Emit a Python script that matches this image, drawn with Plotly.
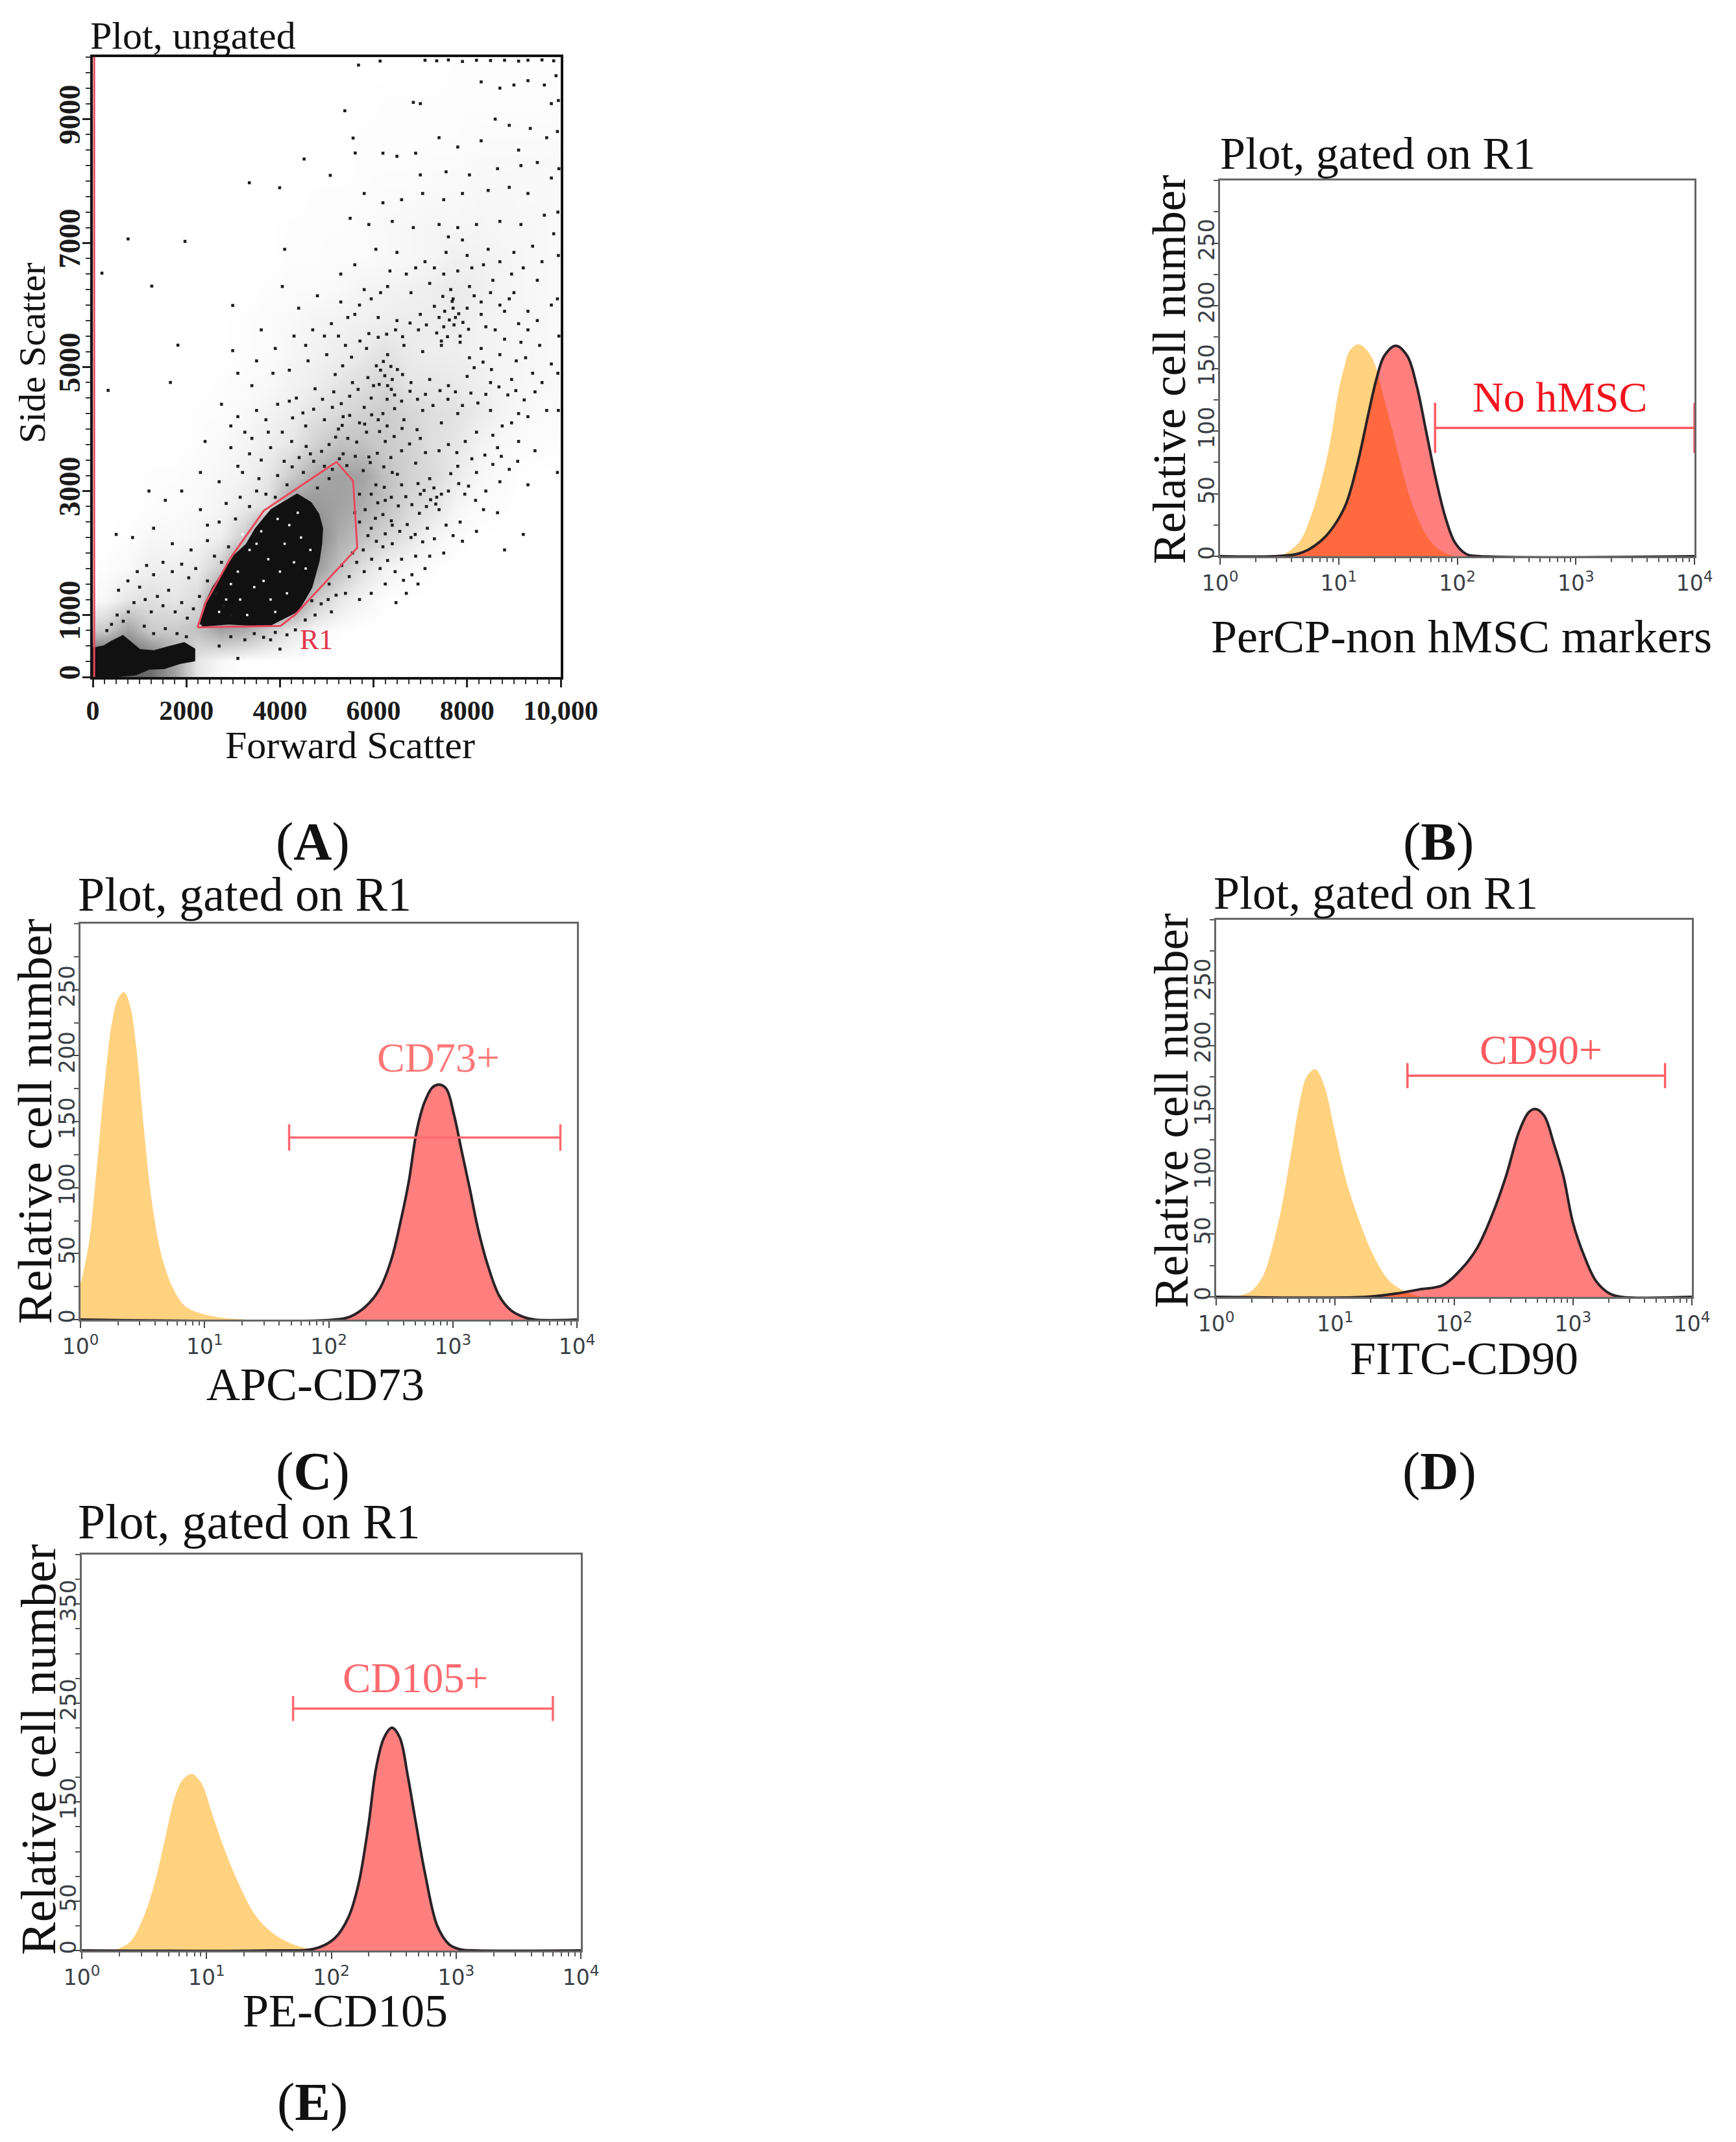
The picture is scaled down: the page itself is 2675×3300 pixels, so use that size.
import numpy as np
import plotly.graph_objects as go

W, H = 2675, 3300
PAGE_MARGIN = 8

# ---------- panel A data (forward scatter, side scatter) ----------
gate_r1_x = [2236, 4011, 4321, 5652, 5563, 5208, 3656, 2946, 2413, 2236]
gate_r1_y = [801, 825, 1002, 2083, 3165, 3470, 2684, 1923, 1202, 801]
core_x = [2325, 2900, 3744, 4150, 4366, 4650, 4809, 4860, 4880, 4800, 4640, 4366, 4100, 3833, 3656, 3500, 3301, 3050, 2857, 2600, 2413, 2325]
core_y = [841, 880, 841, 1000, 1082, 1450, 1883, 2150, 2400, 2620, 2800, 2925, 2800, 2684, 2524, 2380, 2123, 1950, 1723, 1450, 1162, 841]
debris_x = [0, 0, 250, 420, 639, 800, 994, 1300, 1704, 1950, 2147, 2147, 1850, 1526, 1200, 905, 500, 284, 0]
debris_y = [0, 441, 480, 560, 640, 540, 420, 400, 480, 530, 441, 280, 240, 160, 150, 56, 30, 0, 0]
speck_x = [3350,3600,3950,4200,4450,4300,4000,3750,3450,3150,2950,2700,3300,3800,4150,4550,4100,3650,2850,3100,4380,4650,3900,3500,4250,3200]
speck_y = [2050,2350,2550,2450,2250,1850,1700,1900,1450,1250,1500,1050,1000,1250,1350,1750,2150,1550,1250,1700,2650,2050,1050,2150,950,2300]
density_x = [250, 750, 1250, 1750, 2250, 2750, 3250, 3750, 4250, 4750, 5250, 5750, 6250, 6750, 7250, 7750, 8250, 8750, 9250, 9750]
density_y = [250, 750, 1250, 1750, 2250, 2750, 3250, 3750, 4250, 4750, 5250, 5750, 6250, 6750, 7250, 7750, 8250, 8750, 9250, 9750]
density = [
 [85,80,70,45,12,3,0,0,0,0,0,0,0,0,0,0,0,0,0,0],
 [25,45,25,25,30,45,40,25,12,5,1,0,0,0,0,0,0,0,0,0],
 [3,12,15,12,18,60,70,65,60,25,12,5,1,0,0,0,0,0,0,0],
 [1,3,8,8,10,25,70,80,75,50,30,15,6,3,1,0,0,0,0,0],
 [0,1,4,3,5,8,25,60,75,60,40,30,20,12,5,2,0,0,0,0],
 [0,0,1,2,3,5,10,15,50,50,45,40,30,20,14,5,2,1,0,0],
 [0,0,1,1,2,4,6,12,25,40,45,45,30,22,18,10,4,2,0,0],
 [0,0,0,0,1,3,5,8,12,22,30,30,25,22,16,12,6,3,2,1],
 [0,0,0,0,1,1,3,6,8,14,18,22,25,20,16,14,10,5,3,2],
 [0,0,0,0,0,1,2,3,6,8,12,16,20,12,12,10,8,5,4,3],
 [0,0,0,0,0,0,1,2,4,6,8,10,14,10,8,8,6,5,4,3],
 [0,0,0,0,0,0,1,2,3,5,6,7,8,9,9,10,6,5,4,3],
 [0,0,0,0,0,0,0,1,2,2,3,5,6,7,8,10,8,5,4,3],
 [0,0,0,0,0,0,0,0,1,1,2,2,3,4,5,7,6,5,4,3],
 [0,0,0,0,0,0,0,0,1,1,1,2,3,4,5,4,5,4,4,3],
 [0,0,0,0,0,0,0,0,0,1,1,1,2,2,3,3,4,4,3,3],
 [0,0,0,0,0,0,0,0,0,0,0,1,1,1,2,2,3,3,3,3],
 [0,0,0,0,0,0,0,0,0,0,0,1,1,1,1,1,2,2,2,2],
 [0,0,0,0,0,0,0,0,0,0,0,0,1,1,1,1,1,1,1,1],
 [0,0,0,0,0,0,0,0,0,0,0,0,0,0,0,1,1,1,1,1],
]
spots = [
 (4516,8356),(3345,7973),(3993,7893),(1970,7027),(754,7067),(195,6515),(1260,6306),(2990,5994),(1819,5353),(2990,5265),
 (1659,4752),(328,4624),(5563,8694),(5608,8453),(5075,8093),(5386,9135),(5679,9872),(6140,9936),(7100,9950),(7350,9940),
 (7600,9955),(7900,9930),(8200,9950),(8500,9945),(8800,9950),(9100,9935),(9300,9950),(9600,9955),(9850,9940),(9900,9700),
 (9950,9300),(9930,8800),(9960,8200),(9940,7500),(9950,6800),(9930,6100),(9960,5500),(9940,4900),(9950,4300),(9930,3300),
 (8300,9600),(8700,9500),(9000,9550),(9300,9620),(9650,9550),(9800,9250),(7000,9250),(6850,9270),(8600,9000),(8900,8900),
 (9350,8850),(9700,8700),(9100,8500),(8300,8650),(7800,8550),(7400,8700),(6900,8450),(6500,8400),(6200,8450),(7000,8100),
 (7550,8150),(8050,8100),(8650,8200),(9150,8250),(9500,8300),(9800,8050),(9300,7800),(8900,7900),(8450,7850),(7900,7800),
 (7500,7700),(7050,7800),(6600,7700),(6200,7650),(5800,7800),(5500,7400),(5900,7300),(6400,7350),(6850,7250),(7400,7300),
 (7800,7250),(8200,7300),(8700,7350),(9150,7300),(9650,7450),(9850,7150),(9400,6950),(9000,6850),(8450,6900),(8000,6800),
 (7550,6850),(7100,6700),(6500,6850),(6050,6900),(5600,6650),(5300,6500),(4100,6900),(4050,6300),(4400,5950),(4800,6150),
 (5300,6050),(5800,6250),(6300,6300),(6800,6200),(7200,6350),(7650,6250),(8050,6300),(8550,6400),(9000,6200),(9500,6400),
 (9800,6000),(9300,5900),(8800,5900),(8300,5850),(7700,5950),(7400,5800),(7000,5850),(6500,5750),(6100,5800),(5600,5850),
 (5100,5700),(4700,5600),(4300,5500),(3900,5300),(3600,5600),(3500,5100),(3100,4900),(3400,4700),(3850,4900),(4200,4950),
 (4600,5100),(5000,5200),(5400,5350),(5850,5300),(6300,5200),(6650,5350),(7050,5250),(7450,5350),(7850,5400),(8300,5300),
 (8700,5200),(9150,5400),(9550,5350),(9800,5050),(9400,4900),(8950,4800),(8500,4750),(8000,4850),(7600,4700),(7200,4800),
 (6800,4750),(6400,4800),(6000,4700),(5550,4750),(5150,4600),(4750,4650),(4350,4500),(3950,4400),(3500,4300),(3100,4200),
 (2750,4400),(2400,3800),(2950,3700),(3400,3850),(3800,3700),(2300,3300),(2700,3150),(3200,3300),(1200,3000),(1550,2850),
 (1900,3000),(2300,2700),(2700,2500),(500,2300),(850,2250),(1300,2400),(1700,2150),(2100,2050),(2450,2200),(8500,4300),
 (8950,4100),(9300,4200),(9700,4300),(9100,3800),(8650,3700),(8200,3950),(7800,4250),(7450,4100),(7050,4300),(6650,4150),
 (6200,4250),(5800,4350),(5350,4200),(4950,4150),(4550,4050),(8200,3300),(8700,3150),(9300,3100),(7800,3400),(7400,3650),
 (7000,3850),(6600,3650),(6250,3800),(5850,3950),(5450,3850),(5050,3750),(4650,3600),(4250,3800),(7600,3000),(7950,2950),
 (8350,2700),(8650,2650),(8200,2350),(7850,2500),(7400,2700),(7000,2950),(6600,3100),(6250,2850),(7150,2400),(6800,2250),
 (6400,2450),(7500,2000),(7100,1750),(6600,1900),(6250,1500),(5800,1700),(6900,1950),(5400,1350),(5100,1050),(4750,1000),
 (5050,1500),(5550,2000),(4000,450),(3800,600),(3100,300),(2700,500),(9200,2300),(8800,2050),(8950,6500),(7700,6100),
 (7750,5800),(7500,5650),(7350,5550),(7850,5500),(8050,5150),(6150,4950),(6300,4700),(6450,4550),(6600,4450),(5950,4500),
 (6100,4150),(5700,4100),(5250,4000),(6900,3450),(7200,3200),(7350,2900),(6050,3100),(5700,2950),(5900,3550),(6400,3300),
 (4950,3400),(4500,3300),(4150,3100),(4800,3050),(3550,3200),(5600,2650),(5950,2400),(6200,2100),(5350,3600),(5050,3200),
]
spots_mid = [
 (5120,3350),(5270,3520),(5430,3410),(5610,3560),(5780,3330),(5930,3460),(6080,3610),(6220,3390),(6370,3540),(6510,3270),
 (4890,3640),(4720,3480),(4560,3720),(4410,3540),(4260,3390),(4090,3480),(3950,3250),(5190,3870),(5330,4060),(5490,4220),
 (5640,3790),(5810,4080),(5960,4230),(6130,3960),(6290,4050),(6440,3880),(6610,4010),(6770,3760),(6930,3990),(7110,3620),
 (6060,5020),(6210,5090),(6370,5010),(6240,4860),(6380,4640),(6120,4720),(6510,4960),(6290,4480),(6450,4330),(5880,4830),
 (5670,4640),(5490,4530),(5310,4410),(5120,4350),(4910,4480),(4720,4320),(4490,4260),(4270,4180),(6620,4880),(6780,4610),
 (6940,4480),(7110,4560),(7270,4380),(7420,4620),(7590,4480),(7750,4600),(7900,4380),(8080,4580),(8230,4420),(8400,4560),
 (6950,3120),(7080,3010),(7220,2860),(7330,2790),(7450,2950),(7290,3050),(7130,2750),(6980,2640),(6820,2780),(6690,2910),
 (6530,2760),(6380,2900),(6230,3060),(6090,2810),(5950,2950),(5820,2700),(5700,2500),(6040,2560),(6200,2620),(6380,2520),
 (6560,2350),(6720,2460),(6890,2300),(7050,2180),(6400,2150),(6250,2310),(6060,2190),(5880,2280),(5780,2050),(5960,1900),
 (6140,1750),(6300,1880),(6460,1700),(6640,1560),(6820,1650),(5640,1850),(5480,1620),(5320,1800),(5200,1320),(5030,1250),
 (4880,1180),(4680,1230),(4540,920),(4330,760),(4150,680),(3900,720),(3650,640),(3450,700),(3250,600),(2950,650),
 (7520,5900),(7620,5760),(7720,5680),(7580,5490),(7450,5420),(7820,5860),(7910,5720),(8030,5610),(7680,6060),(7480,6140),
 (7300,5980),(7130,5680),(6960,5600),(6780,5710),(6620,5490),(6470,5600),(6280,5530),(6100,5480),(5900,5540),(5710,5420),
 (5530,5160),(5340,5020),(5180,4880),(8150,4990),(8340,5080),(8520,4960),(8680,4680),(8870,4550),(9040,4620),(9220,4470),
 (8380,3580),(8550,3430),(8730,3560),(8900,3350),(9080,3480),(7600,3750),(7780,3620),(7960,3800),(8100,3520),(7650,3280),
 (7820,3120),(8030,3080),(8180,2850),(8400,3000),(7550,2450),(7700,2280),(7900,2190),(7300,2230),(7200,1950),(6950,1500),
 (6700,1350),(6480,1200),(5950,1350),(5700,1250),(2950,1000),(2800,1150),(2620,1350),(2450,1550),(2280,1300),(2150,1100),
 (2020,950),(1900,1200),(1760,1050),(1620,1400),(1500,1150),(1380,1300),(1250,1050),(1120,1250),(1000,1450),(880,1200),
 (760,1050),(650,900),(520,1000),(400,850),(300,750),(1100,820),(1300,700),(1550,780),(1800,700),(2000,650),
 (2200,1750),(2050,1600),(1900,1820),(1700,1700),(1500,1850),(1300,1650),(1150,1800),(950,1700),(750,1550),(550,1400),
 (2900,2100),(2750,1850),(2600,1950),(2450,2450),(2850,2800),(3050,2550),(3150,2900),(3350,2750),(3500,3000),(3700,2950),
 (3900,2900),(3100,3400),(3350,3600),(3600,3500),(3750,3950),(3250,3950),(2950,4050),(4050,3950),(4200,4450),(3700,4150),
 (8000,5950),(8150,6150),(8300,6050),(8500,6200),(8700,6000),(8900,6100),(9100,5700),(9300,5600),(9500,5750),(8600,5600),
 (8800,5450),(8400,5650),(9050,5100),(9250,5150),(9450,4600),(9600,4750),(9100,4250),(8750,4050),(8550,3900),(9450,3650),
 (6900,6600),(6700,6500),(6350,6550),(6150,6200),(5950,6100),(5700,6000),(5450,5800),(5250,5500),(4950,5500),(4550,5350),
 (7300,6600),(7500,6500),(7800,6550),(8100,6600),(8350,6650),(8700,6700),(9200,6600),(9600,6700),(7900,7050),(7600,7100),
]
spot_x = [p[0] for p in spots + spots_mid]
spot_y = [p[1] for p in spots + spots_mid]
a_xticks = [0, 2000, 4000, 6000, 8000, 10000]
a_xlabels = ["0", "2000", "4000", "6000", "8000", "10,000"]
a_yticks = [0, 1000, 3000, 5000, 7000, 9000]
a_ylabels = ["0", "1000", "3000", "5000", "7000", "9000"]

# ---------- histogram data: log10(fluorescence), relative cell number ----------
b_iso_log = [0.515,0.58,0.676,0.773,0.87,0.934,0.998,1.047,1.095,1.166,1.24,1.304,1.369,1.433,1.514,1.594,1.675,1.771,1.868,1.964]
b_iso_y = [0,3.7,12,33,65,93,130,150,164,169,164,153,130,107,76,48,28,12,3.7,0]
b_pos_log = [0,0.451,0.644,0.741,0.87,0.966,1.063,1.159,1.256,1.32,1.385,1.481,1.578,1.658,1.739,1.819,1.9,1.98,2.077,2.19,4]
b_pos_y = [0,0,1.7,5,14,25,42,74,116,142,160,168,160,136,99,62,31,11,1.7,0,0]

c_iso_log = [0,0.066,0.13,0.193,0.256,0.304,0.351,0.399,0.446,0.51,0.573,0.652,0.747,0.842,0.968,1.127,1.317]
c_iso_y = [26,55,111,175,225,243,248,237,207,143,89,48,23,10,4.5,1.3,0]
c_pos_log = [0,2.045,2.171,2.298,2.409,2.503,2.583,2.646,2.709,2.773,2.836,2.89,2.947,3.01,3.073,3.137,3.2,3.279,3.374,3.469,3.564,3.659,4]
c_pos_y = [0,0,2.2,10,23,45,76,105,143,165,176,178,175,155,127,99,70,42,18,7,2.2,0,0]

d_iso_log = [0.164,0.293,0.393,0.473,0.554,0.635,0.699,0.763,0.832,0.906,0.987,1.083,1.195,1.325,1.454,1.583,1.711]
d_iso_y = [0,4.3,16,39,72,116,152,175,181,168,135,95,62,32,12.6,4.3,0]
d_pos_log = [0,1.26,1.518,1.711,1.905,2.066,2.195,2.324,2.437,2.549,2.63,2.688,2.759,2.839,2.92,3.0,3.097,3.194,3.307,3.404,4]
d_pos_y = [0,0,2.7,6,9.3,22.6,39,66,96,132,147,149.4,144,122,96,59,32,12.6,2.7,0,0]

e_iso_log = [0.262,0.388,0.498,0.593,0.672,0.751,0.814,0.883,0.956,1.05,1.145,1.272,1.398,1.555,1.713,1.871]
e_iso_y = [0,8.4,34,71,114,156,173,178,169,135,101,63,34,15,5,0]
e_pos_log = [0,1.492,1.871,2.029,2.139,2.218,2.297,2.36,2.423,2.486,2.549,2.612,2.675,2.754,2.849,2.944,3.038,3.164,4]
e_pos_y = [0,0,2,12.6,34,67,126,185,215,225,215,177,131,76,25,6.3,1,0,0]

# marker gates: low, high (fluorescence), level, cap half-height
gate_b = (65, 10000, 102.5, 20)
gate_c = (48, 7360, 138, 10)
gate_d = (40.6, 5950, 176, 10)
gate_e = (49.4, 5970, 244.5, 12.6)

decade_ticks = [1, 10, 100, 1000, 10000]
decade_labels = ["10<sup>0</sup>", "10<sup>1</sup>", "10<sup>2</sup>", "10<sup>3</sup>", "10<sup>4</sup>"]
count_ticks = [0, 50, 100, 150, 200, 250]
count_labels = ["0", "50", "100", "150", "200", "250"]
count_ticks_e = [0, 50, 150, 250, 350]
count_labels_e = ["0", "50", "150", "250", "350"]

SERIF = "Liberation Serif"
SANS = "DejaVu Sans"
ORANGE = "#FFD27F"
PINK = "rgba(255,0,0,0.5)"


def px(x):
    return (x - PAGE_MARGIN) / W


def py(y):
    return 1 - (y - PAGE_MARGIN) / H


fig = go.Figure()
layout = dict(width=W, height=H, margin=dict(l=0, r=0, t=0, b=0), paper_bgcolor="white",
              plot_bgcolor="white", showlegend=False)
minor_log = [m * 10 ** d for d in range(4) for m in range(2, 10)]


def hist_panel(n, box, iso, pos, gate, gate_color, yt, yl, yr):
    l, r, t, b = box
    sx = str(n)
    xa, ya = "xaxis" + sx, "yaxis" + sx
    layout[xa] = dict(domain=[px(l), px(r)], type="log", range=[0, 4], anchor="y" + sx, automargin=False,
                      tickmode="array", tickvals=decade_ticks, ticktext=decade_labels,
                      tickfont=dict(family=SANS, size=33, color="#3a3f45"), ticks="outside", ticklen=10,
                      tickwidth=2, tickcolor="#444", showgrid=False, zeroline=False, showline=True,
                      linecolor="#666", linewidth=3, mirror=True,
                      minor=dict(tickmode="array", tickvals=minor_log, ticks="outside", ticklen=6,
                                 tickwidth=2, tickcolor="#555", showgrid=False))
    minor_counts = [v for v in range(0, yr + 1, 25) if v not in yt]
    layout[ya] = dict(domain=[py(b), py(t)], range=[0, yr], anchor="x" + sx, automargin=False, tickmode="array",
                      tickvals=yt, ticktext=yl, tickangle=-90, ticklabelstandoff=-18,
                      tickfont=dict(family=SANS, size=34, color="#3a3f45"), ticks="outside", ticklen=10,
                      tickwidth=2, tickcolor="#444", showgrid=False, zeroline=False, showline=True,
                      linecolor="#666", linewidth=3, mirror=True,
                      minor=dict(tickmode="array", tickvals=minor_counts, ticks="outside", ticklen=7,
                                 tickwidth=2, tickcolor="#555", showgrid=False))
    kw = dict(xaxis="x" + sx, yaxis="y" + sx, hoverinfo="skip")
    fig.add_trace(go.Scatter(x=10 ** np.array(iso[0]), y=iso[1], mode="lines", fill="tozeroy", fillcolor=ORANGE,
                             line=dict(color=ORANGE, width=1, shape="spline", smoothing=1.0), **kw))
    fig.add_trace(go.Scatter(x=10 ** np.array(pos[0]), y=pos[1], mode="lines", fill="tozeroy", fillcolor=PINK,
                             line=dict(color="#2a2226", width=4, shape="spline", smoothing=1.0),
                             cliponaxis=False, **kw))
    lo, hi, lvl, cap = gate
    fig.add_trace(go.Scatter(x=[lo, lo, None, lo, hi, None, hi, hi],
                             y=[lvl - cap, lvl + cap, None, lvl, lvl, None, lvl - cap, lvl + cap],
                             mode="lines", line=dict(color=gate_color, width=3.5), cliponaxis=False, **kw))


# ----- panel A -----
layout["xaxis"] = dict(domain=[px(143), px(864)], range=[0, 10000], anchor="y", tickmode="array", automargin=False,
                       tickvals=a_xticks, ticktext=a_xlabels,
                       tickfont=dict(family=SERIF, size=42, color="#1a1a1a", weight="bold"),
                       ticks="outside", ticklen=12, tickwidth=3, tickcolor="#222", showgrid=False, zeroline=False,
                       showline=True, linecolor="#111", linewidth=4, mirror=True,
                       minor=dict(dtick=250, ticks="outside", ticklen=7, tickwidth=2, tickcolor="#333", showgrid=False))
layout["yaxis"] = dict(domain=[py(1043), py(88)], range=[0, 10000], anchor="x", tickmode="array", automargin=False,
                       tickvals=a_yticks, ticktext=a_ylabels, tickangle=-90, ticklabelstandoff=-14,
                       tickfont=dict(family=SERIF, size=46, color="#1a1a1a", weight="bold"),
                       ticks="outside", ticklen=12, tickwidth=3, tickcolor="#222", showgrid=False, zeroline=False,
                       showline=True, linecolor="#111", linewidth=4, mirror=True,
                       minor=dict(dtick=250, ticks="outside", ticklen=7, tickwidth=2, tickcolor="#333", showgrid=False))
fig.add_trace(go.Heatmap(x=density_x, y=density_y, z=density, zmin=0, zmax=115, zsmooth="best",
                         colorscale=[[0, "#ffffff"], [1, "#111111"]], showscale=False, hoverinfo="skip",
                         xaxis="x", yaxis="y"))
fig.add_trace(go.Scatter(x=core_x, y=core_y, mode="lines", fill="toself", fillcolor="#111111",
                         line=dict(color="#111111", width=6), xaxis="x", yaxis="y", hoverinfo="skip"))
fig.add_trace(go.Scatter(x=debris_x, y=debris_y, mode="lines", fill="toself", fillcolor="#111111",
                         line=dict(color="#111111", width=6), xaxis="x", yaxis="y", hoverinfo="skip"))
fig.add_trace(go.Scatter(x=speck_x, y=speck_y, mode="markers",
                         marker=dict(symbol="square", size=3.5, color="#ffffff", line=dict(width=0)),
                         xaxis="x", yaxis="y", hoverinfo="skip"))
fig.add_trace(go.Scatter(x=spot_x, y=spot_y, mode="markers",
                         marker=dict(symbol="square", size=4.6, color="#1c1c1c", line=dict(width=0)),
                         xaxis="x", yaxis="y", hoverinfo="skip"))
fig.add_trace(go.Scatter(x=gate_r1_x, y=gate_r1_y, mode="lines", line=dict(color="#e8485c", width=3),
                         xaxis="x", yaxis="y", hoverinfo="skip"))
fig.add_trace(go.Scatter(x=[30, 30], y=[0, 10000], mode="lines", line=dict(color="#e8485c", width=3),
                         xaxis="x", yaxis="y", hoverinfo="skip"))

# ----- histograms -----
hist_panel(2, (1880, 2611, 278, 857), (b_iso_log, b_iso_y), (b_pos_log, b_pos_y), gate_b, "#ff5a60",
           count_ticks, count_labels, 300)
hist_panel(3, (124, 889, 1423, 2033), (c_iso_log, c_iso_y), (c_pos_log, c_pos_y), gate_c, "#ff6a70",
           count_ticks, count_labels, 300)
hist_panel(4, (1874, 2607, 1417, 1998), (d_iso_log, d_iso_y), (d_pos_log, d_pos_y), gate_d, "#ff6066",
           count_ticks, count_labels, 300)
hist_panel(5, (126, 895, 2395, 3005), (e_iso_log, e_iso_y), (e_pos_log, e_pos_y), gate_e, "#ff6a70",
           count_ticks_e, count_labels_e, 400)


def note(text, x, y, size, color="#111111", xanchor="center", angle=0):
    return dict(text=text, x=px(x), y=py(y), xref="paper", yref="paper", xanchor=xanchor, yanchor="middle",
                showarrow=False, textangle=angle, font=dict(family=SERIF, size=size, color=color))


layout["annotations"] = [
    note("Plot, ungated", 137, 55, 60, xanchor="left"),
    note("Side Scatter", 50, 544, 58, angle=-90),
    note("Forward Scatter", 539, 1148, 60),
    note("R1", 488, 985, 44, color="#e2364a"),
    note("Plot, gated on R1", 1878, 236, 70, xanchor="left"),
    note("Relative cell number", 1802, 569, 72, angle=-90),
    note("PerCP-non hMSC markers", 2252, 981, 72),
    note("No hMSC", 2404, 611, 66, color="#f2141e"),
    note("Plot, gated on R1", 118, 1378, 74, xanchor="left"),
    note("Relative cell number", 53, 1728, 75, angle=-90),
    note("APC-CD73", 486, 2133, 72),
    note("CD73+", 675, 1629, 64, color="#ff7777"),
    note("Plot, gated on R1", 1868, 1376, 72, xanchor="left"),
    note("Relative cell number", 1805, 1711, 73, angle=-90),
    note("FITC-CD90", 2256, 2093, 72),
    note("CD90+", 2374, 1617, 64, color="#ff5a60"),
    note("Plot, gated on R1", 118, 2344, 76, xanchor="left"),
    note("Relative cell number", 59, 2696, 76, angle=-90),
    note("PE-CD105", 532, 3098, 72),
    note("CD105+", 640, 2585, 65, color="#ff6a70"),
    note("(<b>A</b>)", 482, 1296, 82),
    note("(<b>B</b>)", 2216, 1296, 82),
    note("(<b>C</b>)", 482, 2266, 82),
    note("(<b>D</b>)", 2218, 2266, 82),
    note("(<b>E</b>)", 482, 3238, 82),
]
fig.update_layout(**layout)
fig.write_html("out.html")
